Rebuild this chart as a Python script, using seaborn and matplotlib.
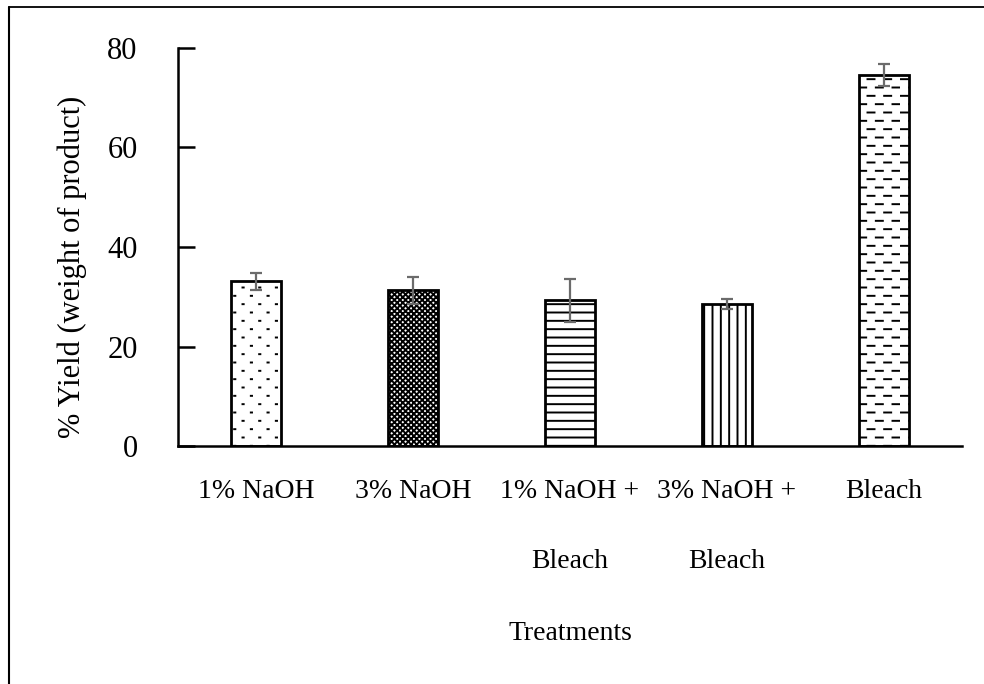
import warnings
import numpy as np
import pandas as pd
import matplotlib
matplotlib.use("Agg")
import matplotlib.pyplot as plt
from matplotlib import hatch as mhatch
from matplotlib.path import Path
from matplotlib.lines import Line2D
import seaborn as sns

warnings.filterwarnings("ignore")

treatments = ["1% NaOH", "3% NaOH", "1% NaOH +\nBleach", "3% NaOH +\nBleach", "Bleach"]
yield_pct = [33.1, 31.3, 29.3, 28.5, 74.6]
yield_err = [1.7, 2.7, 4.3, 1.0, 2.2]
y_ticks = [0, 20, 40, 60, 80]


class StaggeredDashes(mhatch.HatchPatternBase):
    """Rows of short dashes, alternate rows shifted by half a period."""
    char = "_"
    frac = 0.42

    def __init__(self, hatch, density):
        self.num_rows = int(hatch.count(self.char) * density)
        self.num_cols = max(self.num_rows // 2, 1)
        self.num_vertices = self.num_rows * self.num_cols * 2 if self.num_rows else 0

    def set_vertices_and_codes(self, vertices, codes):
        k = 0
        dy = 1.0 / self.num_rows
        dx = 1.0 / self.num_cols
        for i in range(self.num_rows):
            y = (i + 0.5) * dy
            shift = 0.5 * dx if i % 2 else 0.0
            for j in range(self.num_cols):
                x0 = j * dx + shift + 0.05 * dx
                vertices[k] = (x0, y)
                vertices[k + 1] = (x0 + self.frac * dx, y)
                codes[k] = Path.MOVETO
                codes[k + 1] = Path.LINETO
                k += 2


class StaggeredDots(StaggeredDashes):
    char = ":"
    frac = 0.07


mhatch._hatch_types.extend([StaggeredDashes, StaggeredDots])

sns.set_theme(style="white")
plt.rcParams["font.family"] = ["Liberation Serif", "DejaVu Serif"]
plt.rcParams["text.color"] = "black"
plt.rcParams["axes.labelcolor"] = "black"
plt.rcParams["xtick.color"] = "black"
plt.rcParams["ytick.color"] = "black"
plt.rcParams["hatch.linewidth"] = 1.4
plt.rcParams["hatch.color"] = "black"

df = pd.DataFrame({"treatment": treatments, "yield": yield_pct})

fig = plt.figure(figsize=(9.84, 6.84), dpi=100)
ax = fig.add_axes([178 / 984, 1 - 446 / 684, (962 - 178) / 984, (446 - 48) / 684])

sns.barplot(data=df, x="treatment", y="yield", ax=ax, color="white",
            edgecolor="black", linewidth=2.0, width=0.32, errorbar=None)

hatches = ["::", "xxxxxx", "--", "||", "__"]
centers = []
for bar, h in zip(ax.patches, hatches):
    bar.set_hatch(h)
    bar.set_facecolor("white")
    centers.append(bar.get_x() + bar.get_width() / 2)

ax.errorbar(centers, yield_pct, yerr=yield_err, fmt="none", ecolor="#6b6b6b",
            elinewidth=1.6, capsize=4.5, capthick=1.6, zorder=5)

ax.set_ylim(0, 80)
ax.set_xlim(-0.5, 4.5)
ax.set_yticks(y_ticks)
ax.set_yticklabels([str(t) for t in y_ticks], fontsize=22, color="black")

# boundary ticks between categories, labels centred on the bars
ax.set_xticks(np.arange(len(treatments)) + 0.5)
ax.set_xticklabels([])
ax.set_xticks(np.arange(len(treatments)), minor=True)
ax.set_xticklabels(treatments, minor=True, fontsize=20, linespacing=3.35, va="top",
                   color="black")
ax.tick_params(axis="x", which="major", direction="in", length=12, width=1.8, color="black")
ax.tick_params(axis="x", which="minor", length=0, pad=24)
ax.tick_params(axis="y", direction="in", length=12, width=1.8, color="black", pad=29, left=True)

for s in ["top", "right"]:
    ax.spines[s].set_visible(False)
for s in ["left", "bottom"]:
    ax.spines[s].set_color("black")
    ax.spines[s].set_linewidth(1.8)

ax.set_xlabel("Treatments", fontsize=20, labelpad=34, color="black")
ax.set_ylabel("% Yield (weight of product)", fontsize=22, labelpad=15, color="black", y=0.45)
ax.grid(False)

# outer frame (top and left edges visible)
fig.add_artist(Line2D([9 / 984, 1.01], [1 - 7 / 684, 1 - 7 / 684], transform=fig.transFigure,
                      color="black", linewidth=1.3))
fig.add_artist(Line2D([9 / 984, 9 / 984], [1 - 7 / 684, -0.01], transform=fig.transFigure,
                      color="black", linewidth=1.5))

fig.savefig("out.png", dpi=100, facecolor="white")
